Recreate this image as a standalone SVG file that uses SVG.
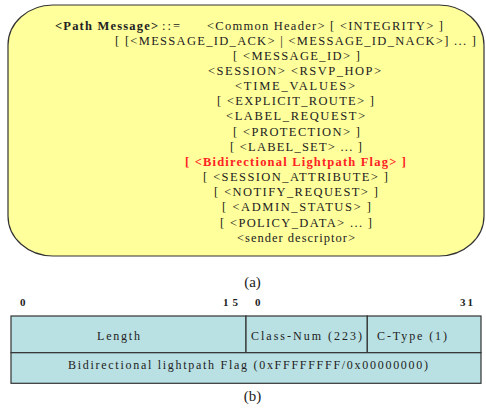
<svg xmlns="http://www.w3.org/2000/svg" width="486" height="409" viewBox="0 0 486 409">
<style>
.t{font-family:"Liberation Serif","Times New Roman",serif;font-size:12.5px;fill:#222}
.b{font-weight:bold}
.r{font-weight:bold;fill:#ff2222}
.f{font-family:"Liberation Serif","Times New Roman",serif;font-size:12px;fill:#222}
.n{font-family:"Liberation Serif","Times New Roman",serif;font-size:11px;font-weight:bold;fill:#222}
.cap{font-family:"Liberation Serif","Times New Roman",serif;font-size:15px;fill:#222;text-anchor:middle}
.cell{fill:#b9e0e3;stroke:#333;stroke-width:1.2}
</style>
<g id="path-message">
<rect x="8" y="5" width="476" height="251" rx="45" ry="40" fill="#ffff9c" stroke="#333" stroke-width="1.2"/>
<text class="t b" x="55" y="29.5" textLength="103" lengthAdjust="spacing">&lt;Path Message&gt;</text>
<text class="t" x="162" y="29.5" textLength="18" lengthAdjust="spacing">::=</text>
<text class="t" x="207" y="29.5" textLength="236" lengthAdjust="spacing">&lt;Common Header&gt; [ &lt;INTEGRITY&gt; ]</text>
<text class="t" x="115" y="44.7" textLength="361" lengthAdjust="spacing">[ [&lt;MESSAGE_ID_ACK&gt; | &lt;MESSAGE_ID_NACK&gt;] ... ]</text>
<text class="t" x="233" y="59.8" textLength="127" lengthAdjust="spacing">[ &lt;MESSAGE_ID&gt; ]</text>
<text class="t" x="208" y="75" textLength="173" lengthAdjust="spacing">&lt;SESSION&gt; &lt;RSVP_HOP&gt;</text>
<text class="t" x="235" y="90.1" textLength="120" lengthAdjust="spacing">&lt;TIME_VALUES&gt;</text>
<text class="t" x="217" y="105.3" textLength="157" lengthAdjust="spacing">[ &lt;EXPLICIT_ROUTE&gt; ]</text>
<text class="t" x="226" y="120.4" textLength="139" lengthAdjust="spacing">&lt;LABEL_REQUEST&gt;</text>
<text class="t" x="233" y="135.6" textLength="127" lengthAdjust="spacing">[ &lt;PROTECTION&gt; ]</text>
<text class="t" x="230" y="150.7" textLength="132" lengthAdjust="spacing">[ &lt;LABEL_SET&gt; ... ]</text>
<text class="t r" x="185" y="165.9" textLength="221" lengthAdjust="spacing">[ &lt;Bidirectional Lightpath Flag&gt;  ]</text>
<text class="t" x="203" y="181" textLength="185" lengthAdjust="spacing">[ &lt;SESSION_ATTRIBUTE&gt; ]</text>
<text class="t" x="214" y="196.2" textLength="164" lengthAdjust="spacing">[ &lt;NOTIFY_REQUEST&gt; ]</text>
<text class="t" x="222" y="211.3" textLength="149" lengthAdjust="spacing">[ &lt;ADMIN_STATUS&gt; ]</text>
<text class="t" x="220" y="226.5" textLength="152" lengthAdjust="spacing">[ &lt;POLICY_DATA&gt; ... ]</text>
<text class="t" x="237" y="241.6" textLength="118" lengthAdjust="spacing">&lt;sender descriptor&gt;</text>
</g>
<text class="cap" x="252.5" y="287">(a)</text>
<g id="bit-labels">
<text class="n" x="20" y="306">0</text>
<text class="n" x="223" y="306" textLength="15" lengthAdjust="spacing">15</text>
<text class="n" x="255" y="306">0</text>
<text class="n" x="460" y="306" textLength="13" lengthAdjust="spacing">31</text>
</g>
<g id="object-format">
<g id="length"><rect class="cell" x="11" y="316" width="235" height="36.7"/>
<text class="f" x="97" y="340" textLength="43" lengthAdjust="spacing">Length</text></g>
<g id="class-num"><rect class="cell" x="246" y="316" width="121.3" height="36.7"/>
<text class="f" x="251" y="340" textLength="111" lengthAdjust="spacing">Class-Num (223)</text></g>
<g id="c-type"><rect class="cell" x="367.3" y="316" width="113.7" height="36.7"/>
<text class="f" x="377" y="340" textLength="70" lengthAdjust="spacing">C-Type (1)</text></g>
<g id="flag"><rect class="cell" x="11" y="352.7" width="470" height="30.6"/>
<text class="f" x="68" y="369" textLength="360" lengthAdjust="spacing">Bidirectional lightpath Flag (0xFFFFFFFF/0x00000000)</text></g>
</g>
<text class="cap" x="252.5" y="401">(b)</text>
</svg>
